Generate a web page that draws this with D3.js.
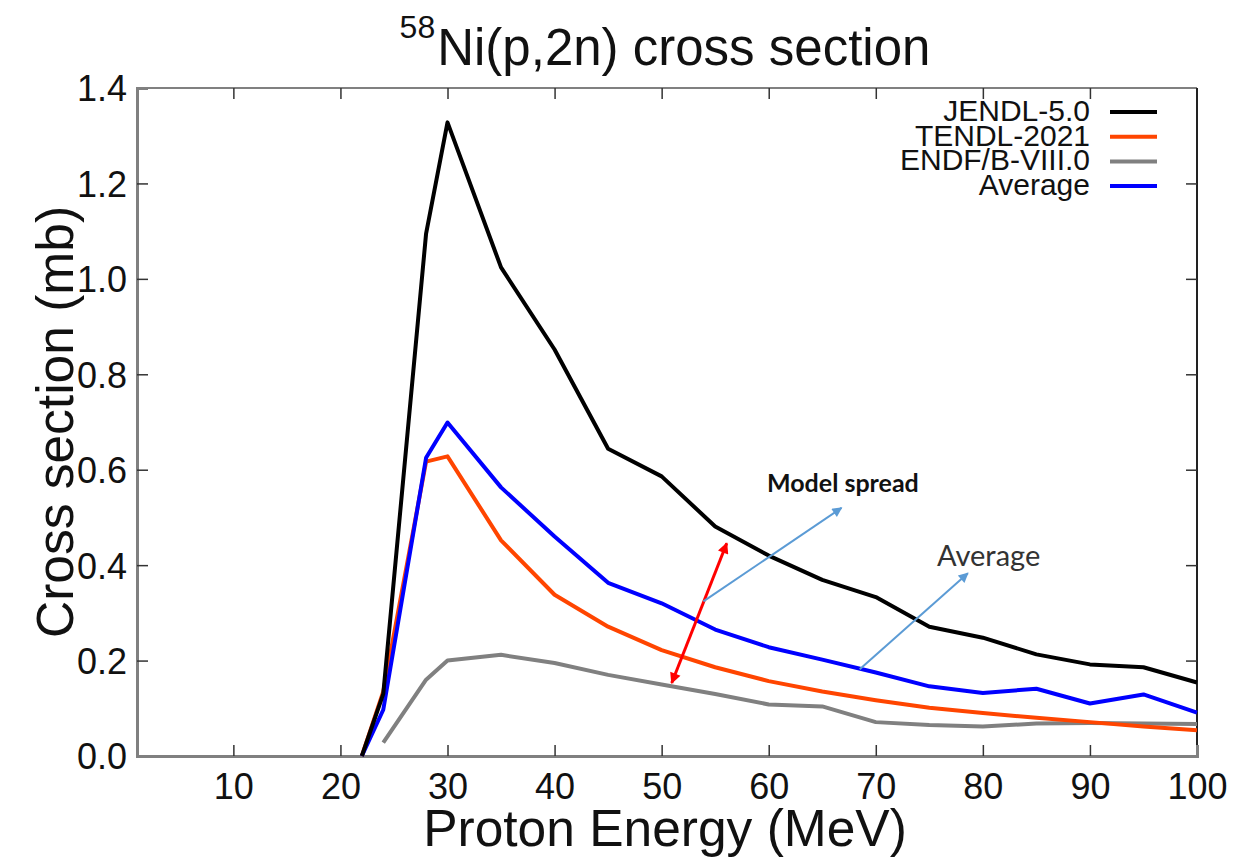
<!DOCTYPE html>
<html>
<head>
<meta charset="utf-8">
<script src="https://cdn.jsdelivr.net/npm/d3@7"></script>
<style>
  html, body { margin: 0; padding: 0; background: #fff; }
  svg { display: block; }
</style>
</head>
<body>
<svg id="chart" width="1253" height="857"></svg>
<script>
// ---------------- DATA ----------------
const energies = [22, 24, 28, 30, 35, 40, 45, 50, 55, 60, 65, 70, 75, 80, 85, 90, 95, 100];
const jendl   = [0, 0.13, 1.095, 1.328, 1.024, 0.852, 0.644, 0.586, 0.481, 0.420, 0.369, 0.333, 0.271, 0.248, 0.213, 0.192, 0.186, 0.154];
const tendl   = [0, 0.135, 0.617, 0.628, 0.452, 0.338, 0.271, 0.222, 0.186, 0.157, 0.135, 0.117, 0.101, 0.090, 0.080, 0.071, 0.062, 0.054];
const endfEnergies = [24, 28, 30, 35, 40, 45, 50, 55, 60, 65, 70, 75, 80, 85, 90, 95, 100];
const endf    = [0.028, 0.160, 0.200, 0.212, 0.195, 0.170, 0.150, 0.130, 0.108, 0.104, 0.071, 0.065, 0.062, 0.068, 0.069, 0.068, 0.067];
const average = [0, 0.097, 0.625, 0.699, 0.563, 0.460, 0.363, 0.320, 0.265, 0.228, 0.202, 0.175, 0.146, 0.132, 0.141, 0.110, 0.129, 0.091];

const seriesNames  = ["JENDL-5.0", "TENDL-2021", "ENDF/B-VIII.0", "Average"];
const seriesColors = ["#000000", "#ff4500", "#808080", "#0000ff"];

const xTicks = [10, 20, 30, 40, 50, 60, 70, 80, 90, 100];
const yTicks = [0.0, 0.2, 0.4, 0.6, 0.8, 1.0, 1.2, 1.4];

// annotation anchor points in data units [energy, cross section]
const spreadArrow   = [[50.94, 0.153], [56.08, 0.446]];
const spreadPointer = [[53.9, 0.324], [66.8, 0.520]];
const avgPointer    = [[68.5, 0.182], [78.6, 0.383]];
const spreadLabelAt = [59.84, 0.554];
const avgLabelAt    = [75.72, 0.399];

// ---------------- CHART ----------------
const svg = d3.select("#chart");
const mLeft = 137, mRight = 1197, mTop = 88, mBottom = 756;

const x = d3.scaleLinear().domain([1, 100]).range([mLeft, mRight]);
const y = d3.scaleLinear().domain([0, 1.4]).range([mBottom, mTop]);

const font = "'Liberation Sans', Arial, Helvetica, sans-serif";

// defs: arrow markers
const defs = svg.append("defs");
function marker(id, color, w, h, orient) {
  defs.append("marker")
    .attr("id", id).attr("viewBox", "0 0 10 10")
    .attr("refX", 9).attr("refY", 5)
    .attr("markerUnits", "userSpaceOnUse")
    .attr("markerWidth", w).attr("markerHeight", h)
    .attr("orient", orient)
    .append("path").attr("d", "M0,0 L10,5 L0,10 Z").attr("fill", color);
}
marker("redEnd", "#ff0000", 14, 11, "auto");
marker("redStart", "#ff0000", 14, 11, "auto-start-reverse");
marker("blueEnd", "#5b9bd5", 13, 10, "auto");

// frame
const frame = svg.append("g");
frame.append("line").attr("x1", mLeft).attr("x2", mRight).attr("y1", mTop).attr("y2", mTop)
  .attr("stroke", "#808080").attr("stroke-width", 2);
frame.append("line").attr("x1", mRight).attr("x2", mRight).attr("y1", mTop).attr("y2", mBottom)
  .attr("stroke", "#222").attr("stroke-width", 2);

// axes
const xAxis = d3.axisBottom(x).tickValues(xTicks).tickSize(-11).tickPadding(17).tickFormat(d3.format("d"));
const gx = svg.append("g").attr("transform", `translate(0,${mBottom})`).call(xAxis);
gx.select(".domain").attr("stroke", "#808080").attr("stroke-width", 3);
gx.selectAll(".tick line").attr("stroke", "#333").attr("stroke-width", 1.5)
  .filter(d => d === 100).remove();
gx.selectAll(".tick text").attr("font-family", font).attr("font-size", 36).attr("fill", "#111");

const xAxisTop = d3.axisTop(x).tickValues(xTicks.filter(d => d < 100)).tickSize(-11).tickFormat("");
const gxt = svg.append("g").attr("transform", `translate(0,${mTop})`).call(xAxisTop);
gxt.select(".domain").remove();
gxt.selectAll(".tick line").attr("stroke", "#333").attr("stroke-width", 1.5);

const yAxis = d3.axisLeft(y).tickValues(yTicks).tickSize(-11).tickPadding(10).tickFormat(d3.format(".1f"));
const gy = svg.append("g").attr("transform", `translate(${mLeft},0)`).call(yAxis);
gy.select(".domain").attr("stroke", "#808080").attr("stroke-width", 3);
gy.selectAll(".tick line").attr("stroke", "#333").attr("stroke-width", 1.5)
  .filter(d => d === 0 || d === 1.4).remove();
gy.selectAll(".tick text").attr("font-family", font).attr("font-size", 36).attr("fill", "#111")
  .attr("dy", "0.36em");

const yAxisRight = d3.axisRight(y).tickValues(yTicks.filter(d => d > 0 && d < 1.4)).tickSize(-11).tickFormat("");
const gyr = svg.append("g").attr("transform", `translate(${mRight},0)`).call(yAxisRight);
gyr.select(".domain").remove();
gyr.selectAll(".tick line").attr("stroke", "#333").attr("stroke-width", 1.5);

// series lines
const line = d3.line().x(d => x(d[0])).y(d => y(d[1]));
const allSeries = [
  d3.zip(energies, jendl),
  d3.zip(energies, tendl),
  d3.zip(endfEnergies, endf),
  d3.zip(energies, average)
];
// draw order: gray, orange, blue, black
[2, 1, 3, 0].forEach(i => {
  svg.append("path").datum(allSeries[i])
    .attr("d", line).attr("fill", "none")
    .attr("stroke", seriesColors[i]).attr("stroke-width", 4)
    .attr("stroke-linejoin", "round");
});

// annotations
svg.append("line")
  .attr("x1", x(spreadArrow[0][0])).attr("y1", y(spreadArrow[0][1]))
  .attr("x2", x(spreadArrow[1][0])).attr("y2", y(spreadArrow[1][1]))
  .attr("stroke", "#ff0000").attr("stroke-width", 3)
  .attr("marker-start", "url(#redStart)").attr("marker-end", "url(#redEnd)");

[spreadPointer, avgPointer].forEach(p => {
  svg.append("line")
    .attr("x1", x(p[0][0])).attr("y1", y(p[0][1]))
    .attr("x2", x(p[1][0])).attr("y2", y(p[1][1]))
    .attr("stroke", "#5b9bd5").attr("stroke-width", 2)
    .attr("marker-end", "url(#blueEnd)");
});

svg.append("text")
  .attr("x", x(spreadLabelAt[0])).attr("y", y(spreadLabelAt[1]))
  .attr("font-family", "Lato, 'Open Sans', sans-serif").attr("font-weight", "bold")
  .attr("font-size", 25).attr("fill", "#111")
  .text("Model spread");

svg.append("text")
  .attr("x", x(avgLabelAt[0])).attr("y", y(avgLabelAt[1]))
  .attr("font-family", "Lato, 'Open Sans', sans-serif")
  .attr("font-size", 29).attr("fill", "#333")
  .text("Average");

// legend
const legend = svg.append("g");
seriesNames.forEach((name, i) => {
  const ly = 112 + i * 24.7;
  legend.append("text")
    .attr("x", 1090).attr("y", ly + 9)
    .attr("text-anchor", "end")
    .attr("font-family", font).attr("font-size", 30).attr("fill", "#111")
    .text(name);
  legend.append("line")
    .attr("x1", 1110).attr("x2", 1157).attr("y1", ly).attr("y2", ly)
    .attr("stroke", seriesColors[i]).attr("stroke-width", 4);
});

// title
const title = svg.append("text")
  .attr("x", 665).attr("y", 65)
  .attr("text-anchor", "middle")
  .attr("font-family", font).attr("font-size", 51).attr("fill", "#111");
title.append("tspan").attr("font-size", 32).attr("dy", -27).text("58");
title.append("tspan").attr("dy", 27).attr("dx", 2).text("Ni(p,2n) cross section");

// axis titles
svg.append("text")
  .attr("x", 665).attr("y", 846)
  .attr("text-anchor", "middle")
  .attr("font-family", font).attr("font-size", 51.5).attr("fill", "#111")
  .text("Proton Energy (MeV)");

svg.append("text")
  .attr("transform", `translate(73,${(mTop + mBottom) / 2}) rotate(-90)`)
  .attr("text-anchor", "middle")
  .attr("font-family", font).attr("font-size", 51.5).attr("fill", "#111")
  .text("Cross section (mb)");
</script>
</body>
</html>
